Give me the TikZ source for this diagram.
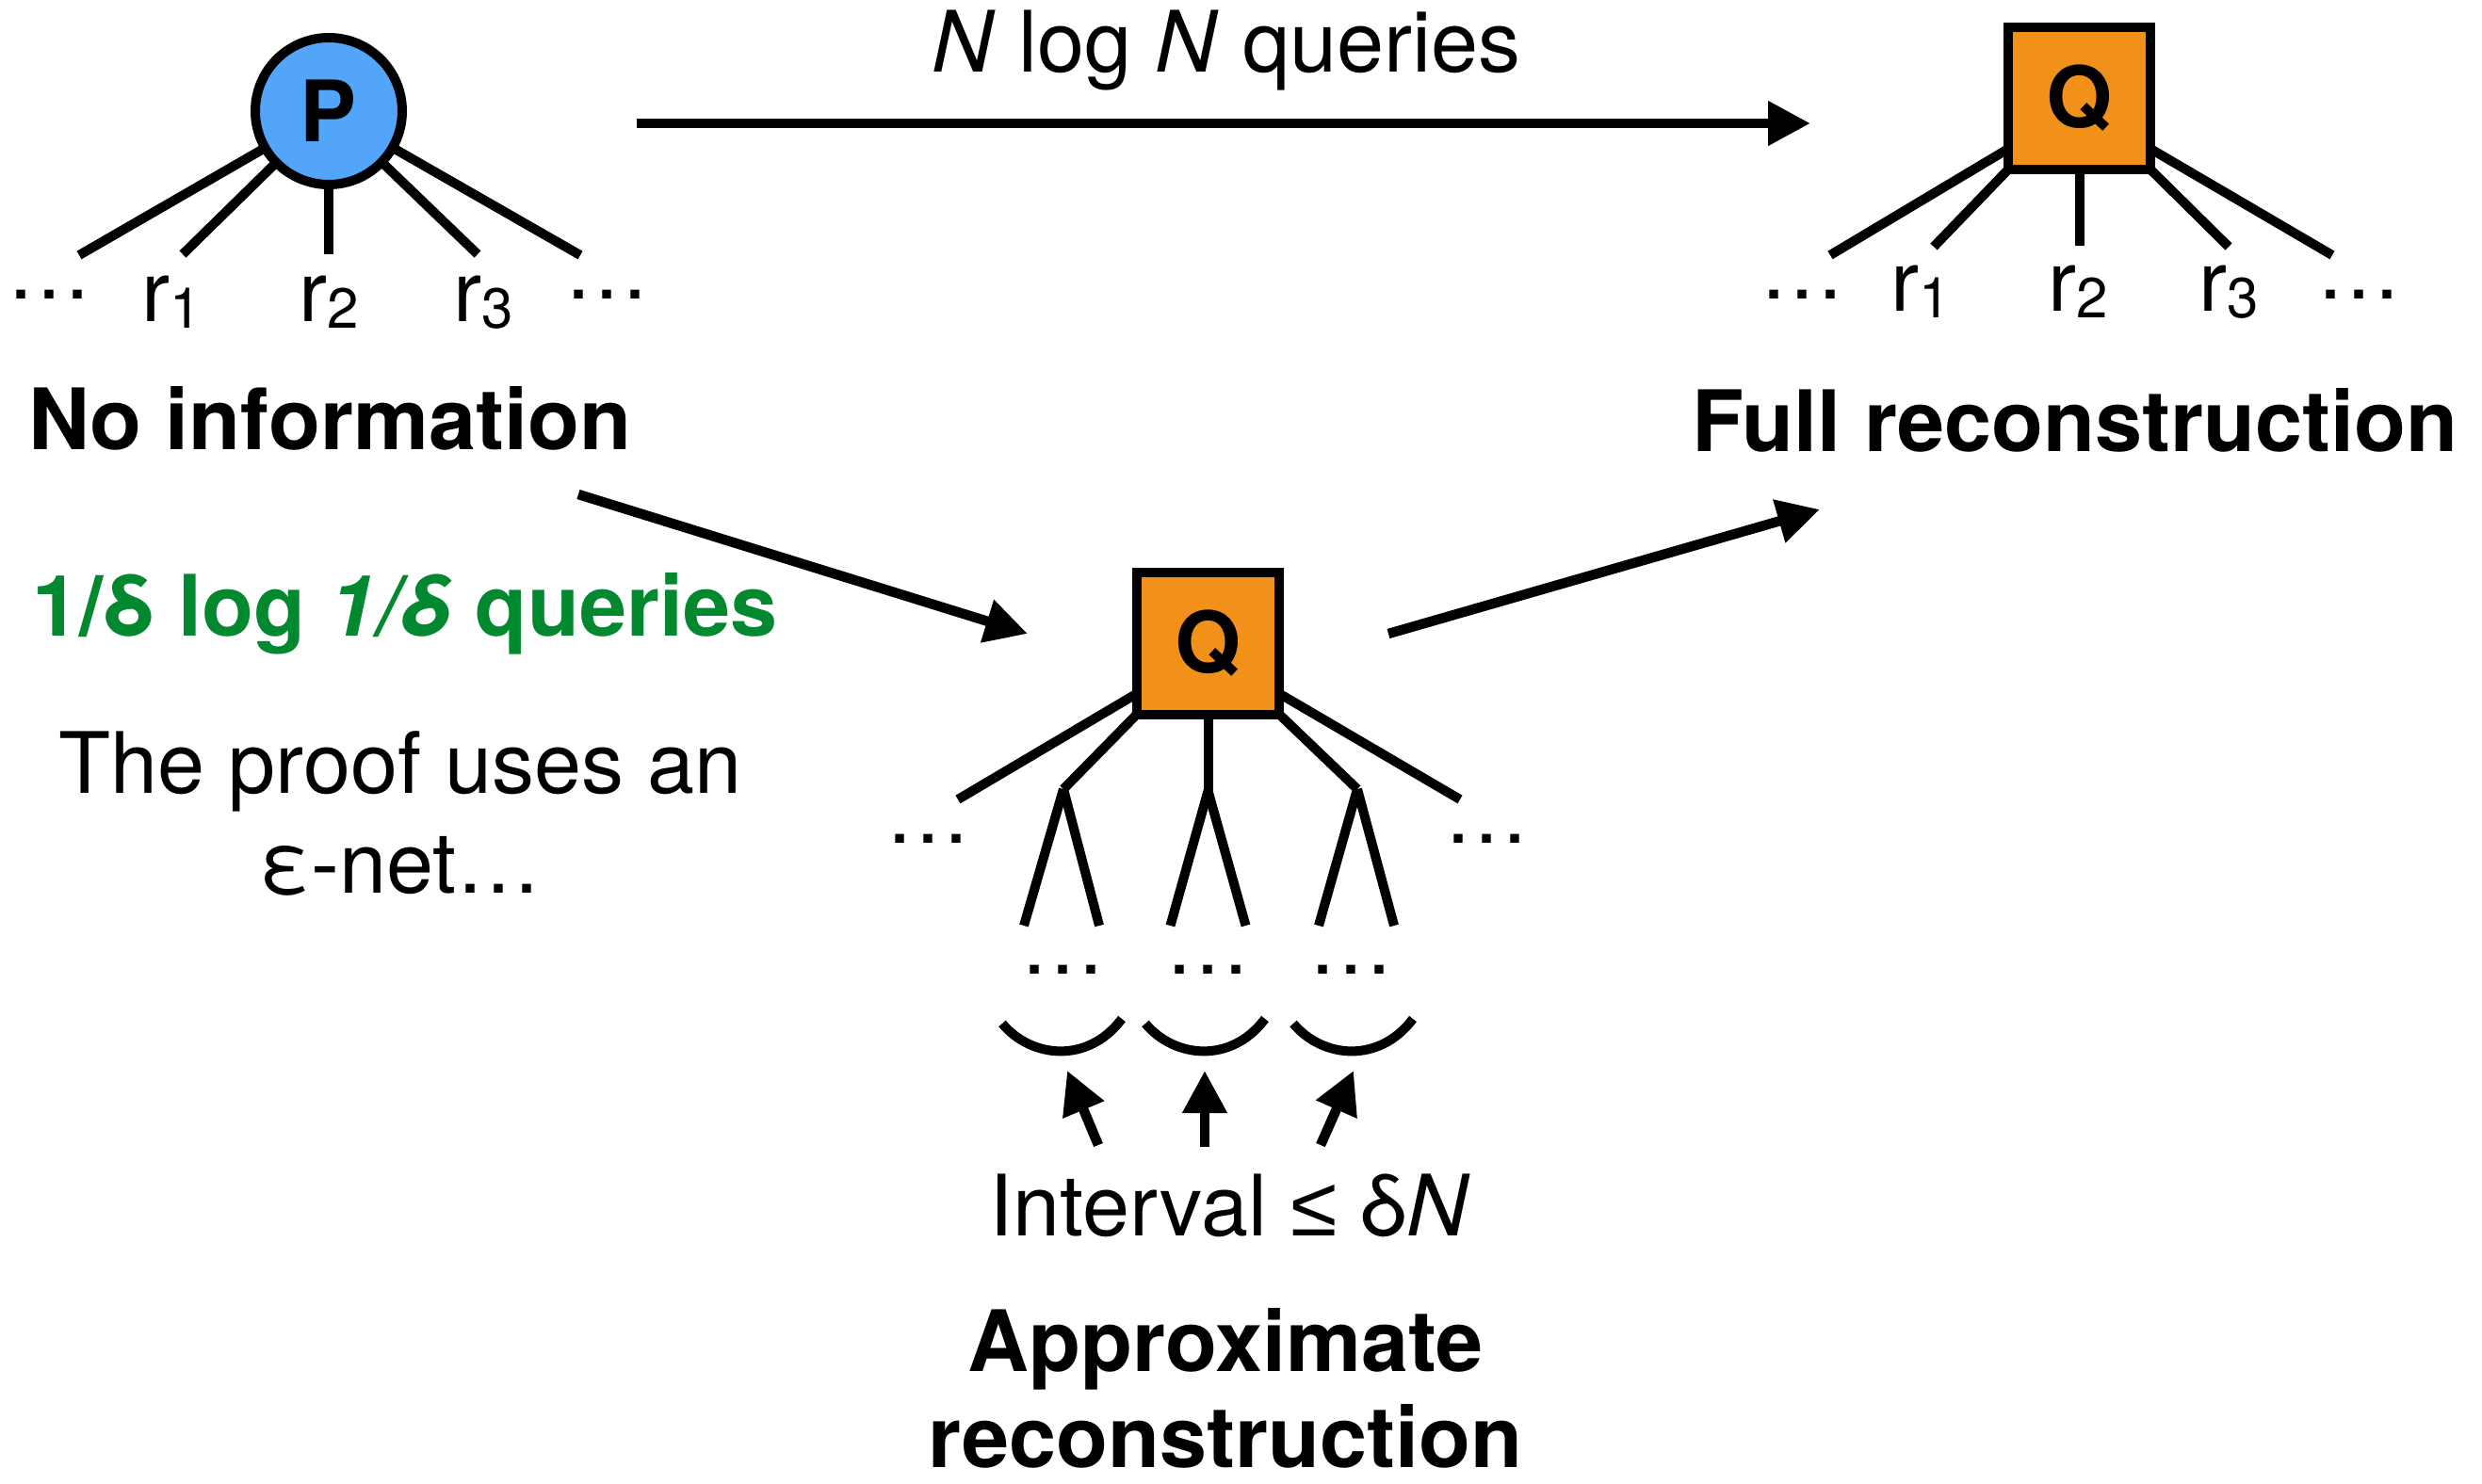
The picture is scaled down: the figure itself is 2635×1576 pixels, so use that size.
\documentclass[tikz,border=0pt]{standalone}
\usepackage{fontspec}
\setmainfont{TeX Gyre Heros}
\newfontfamily\symfont{Liberation Sans}
\usetikzlibrary{arrows.meta,calc}
\definecolor{pblue}{RGB}{82,165,248}
\definecolor{qorange}{RGB}{242,145,26}
\definecolor{qgreen}{RGB}{2,136,46}
\newcommand{\bigtext}{\fontsize{90}{106}\selectfont}
\newcommand{\rlab}[1]{r\raisebox{-7pt}{\fontsize{60}{60}\selectfont #1}}

\begin{document}
\begin{tikzpicture}[x=1pt,y=-1pt,
  every node/.style={font=\bigtext, inner sep=0pt, outer sep=0pt},
  branch/.style={line width=10pt},
  flow/.style={line width=10.5pt,-{Triangle[length=45pt,width=45pt]}},
  pnode/.style={circle,draw,line width=10pt,fill=pblue,minimum size=156pt,font=\bigtext\bfseries},
  qnode/.style={rectangle,draw,line width=10pt,fill=qorange,minimum size=151pt,font=\bigtext\bfseries},
  txt/.style={anchor=base},
  headtxt/.style={anchor=base,font=\bigtext\bfseries},
]
\useasboundingbox (0,0) rectangle (2635,1576);

% ---- left tree: no information ----
\coordinate (pa) at (84,271);
\coordinate (pb) at (194,270);
\coordinate (pc) at (349,270);
\coordinate (pd) at (507,270);
\coordinate (pe) at (616,271);
\draw[branch] (349,118) -- (pa);
\draw[branch] (349,118) -- (pb);
\draw[branch] (349,118) -- (pc);
\draw[branch] (349,118) -- (pd);
\draw[branch] (349,118) -- (pe);
\node[pnode] (P) at (349,118) {P};
\node[txt] (pdl) at (52.5,317) {…};
\node[txt] (pdr) at (644.5,317) {…};
\node[txt] (pr1) at (182,341) {\rlab{1}};
\node[txt] (pr2) at (349,341) {\rlab{2}};
\node[txt] (pr3) at (513,341) {\rlab{3}};
\node[headtxt] (noinfo) at (350,477) {No information};

% ---- right tree: full reconstruction ----
\node[qnode] (Qt) at (2207.5,104.5) {Q};
\coordinate (qa) at (1943,271);
\coordinate (qb) at (2053,262);
\coordinate (qc) at (2207.5,261);
\coordinate (qd) at (2366,262);
\coordinate (qe) at (2476,271);
\draw[branch] ($(Qt.south west)+(0,-22)$) -- (qa);
\draw[branch] (Qt.south west) -- (qb);
\draw[branch] (Qt.south) -- (qc);
\draw[branch] (Qt.south east) -- (qd);
\draw[branch] ($(Qt.south east)+(0,-22)$) -- (qe);
\node[txt] (qdl) at (1913,317) {…};
\node[txt] (qdr) at (2504.5,317) {…};
\node[txt] (qr1) at (2039,330) {\rlab{1}};
\node[txt] (qr2) at (2206.5,330) {\rlab{2}};
\node[txt] (qr3) at (2366.5,330) {\rlab{3}};
\node[headtxt] (full) at (2203,479) {Full reconstruction};

% ---- middle tree: approximate reconstruction ----
\node[qnode] (Qm) at (1282.5,683) {Q};
\coordinate (ma) at (1017,849);
\coordinate (mb) at (1129,838);
\coordinate (mc) at (1282.5,840);
\coordinate (md) at (1441,838);
\coordinate (me) at (1550,849);
\draw[branch] ($(Qm.south west)+(0,-22)$) -- (ma);
\draw[branch] (Qm.south west) -- (mb);
\draw[branch] (Qm.south) -- (mc);
\draw[branch] (Qm.south east) -- (md);
\draw[branch] ($(Qm.south east)+(0,-22)$) -- (me);
% second-level forks
\draw[branch] (mb) -- (1087,983);
\draw[branch] (mb) -- (1167,983);
\draw[branch] (mc) -- (1242.5,983);
\draw[branch] (mc) -- (1322.5,983);
\draw[branch] (md) -- (1400,983);
\draw[branch] (md) -- (1480,983);
\node[txt] (mdl) at (985.5,895) {…};
\node[txt] (mdr) at (1578.5,895) {…};
\node[txt] (fd1) at (1128,1034) {…};
\node[txt] (fd2) at (1282.5,1034) {…};
\node[txt] (fd3) at (1434.5,1034) {…};
% interval brackets
\draw[branch] (1064,1087) .. controls (1095,1124) and (1155,1130) .. (1191,1082);
\draw[branch] (1216,1087) .. controls (1247,1124) and (1307,1130) .. (1343,1082);
\draw[branch] (1373,1087) .. controls (1404,1124) and (1464,1130) .. (1500,1082);
\coordinate (s1a) at (1166,1216);
\coordinate (s1b) at (1133,1137);
\coordinate (s2a) at (1279,1218);
\coordinate (s2b) at (1279,1137);
\coordinate (s3a) at (1402,1216);
\coordinate (s3b) at (1437,1137);
\draw[flow] (s1a) -- (s1b);
\draw[flow] (s2a) -- (s2b);
\draw[flow] (s3a) -- (s3b);
\node[txt] (interval) at (1306,1312) {Interval {\symfont ≤} δ\textit{N}};
\node[headtxt] (approx1) at (1301,1456) {Approximate};
\node[headtxt] (approx2) at (1301,1558) {reconstruction};

% ---- query arrows ----
\coordinate (ta) at (676,131);
\coordinate (tb) at (1922,131);
\draw[flow] (ta) -- (tb);
\node[txt] (nlogn) at (1302,77) {\textit{N} log \textit{N} queries};

\coordinate (da) at (614,525);
\coordinate (db) at (1091,673);
\draw[flow] (da) -- (db);
\coordinate (ua) at (1474,673);
\coordinate (ub) at (1932,541);
\draw[flow] (ua) -- (ub);

\node[txt,font=\bigtext\bfseries,text=qgreen] (cost) at (430,675) {1/δ log \textit{1/δ} queries};
\node[txt] (proof1) at (425,842) {The proof uses an};
\node[txt] (proof2) at (425,948) {ε-net…};
\end{tikzpicture}
\end{document}
